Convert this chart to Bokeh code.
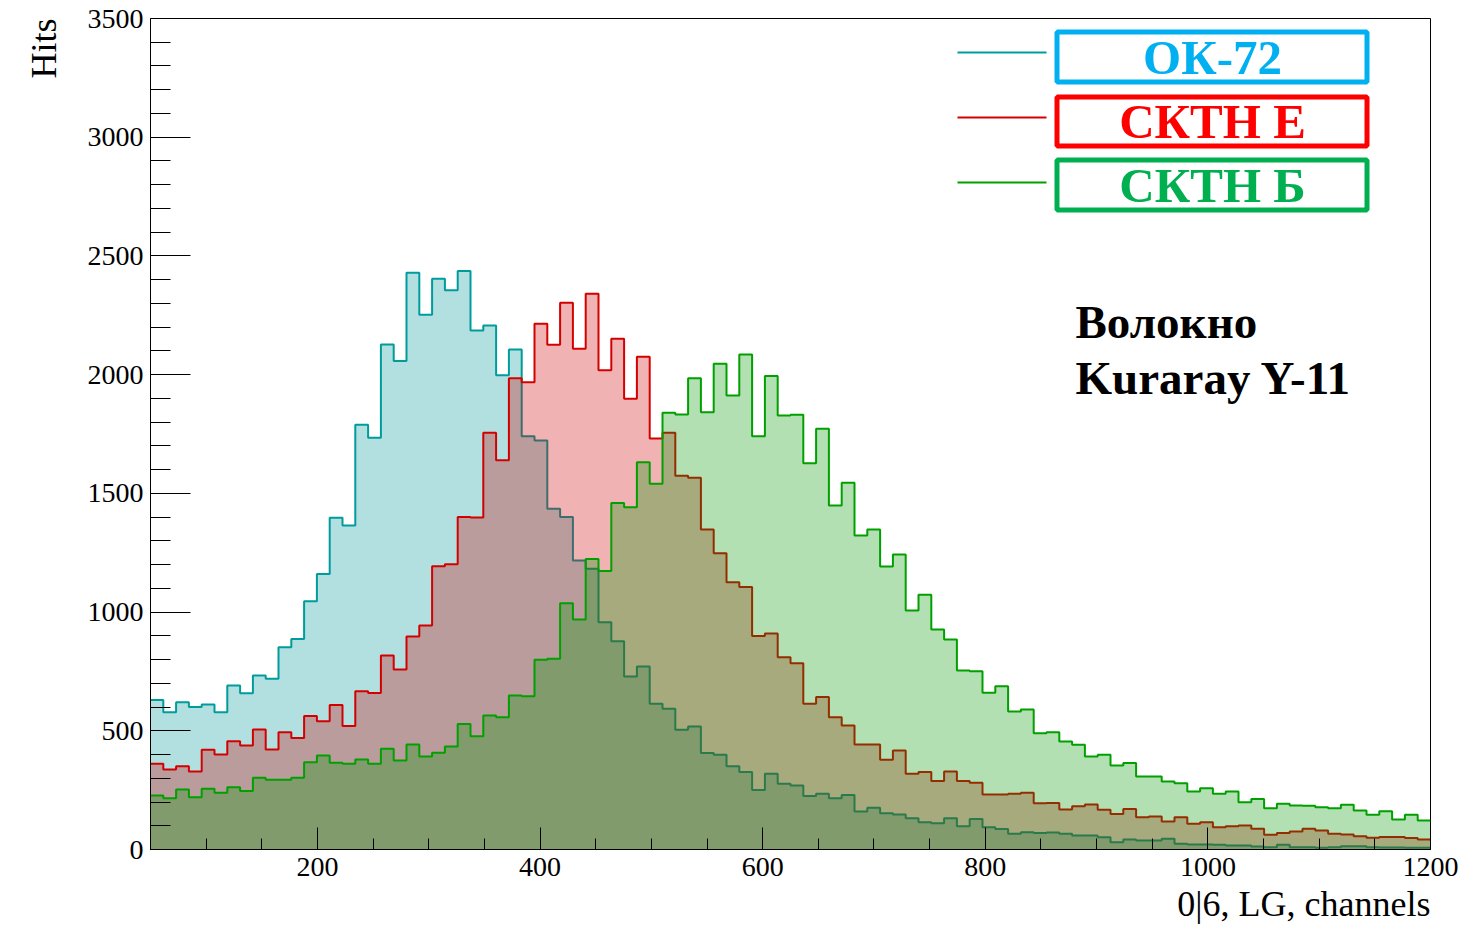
import numpy as np
from bokeh.plotting import figure
from bokeh.models import Range1d, SingleIntervalTicker, Label, Title
from bokeh.embed import file_html
from bokeh.resources import INLINE

# Binning: 100 channel bins from 50 to 1200
X_LO, X_HI = 50, 1200
Y_LO, Y_HI = 0, 3500
N_BINS = 100
edges = np.linspace(X_LO, X_HI, N_BINS + 1)

ok72 = [630, 578, 620, 600, 611, 578, 691, 658, 733, 719,
        852, 887, 1046, 1160, 1397, 1365, 1789, 1734, 2127, 2057,
        2429, 2252, 2404, 2355, 2436, 2186, 2207, 1997, 2106, 1740,
        1723, 1435, 1400, 1217, 1182, 957, 877, 729, 771, 614,
        593, 504, 518, 406, 399, 351, 326, 251, 319, 277,
        270, 225, 235, 216, 230, 160, 176, 153, 147, 132,
        115, 111, 132, 98, 128, 94, 86, 66, 73, 70,
        72, 66, 59, 59, 52, 31, 42, 38, 38, 45,
        24, 21, 21, 20, 17, 17, 13, 10, 20, 10,
        10, 7, 10, 14, 14, 10, 8, 8, 7, 7]

sktn_e = [361, 337, 351, 329, 420, 400, 456, 438, 505, 421,
          494, 470, 562, 540, 609, 520, 667, 659, 817, 758,
          897, 943, 1193, 1201, 1400, 1398, 1755, 1639, 1985, 1968,
          2214, 2126, 2303, 2109, 2341, 2018, 2151, 1898, 2075, 1731,
          1755, 1574, 1566, 1348, 1248, 1126, 1106, 899, 910, 810,
          784, 614, 642, 557, 522, 442, 442, 378, 417, 319,
          326, 288, 329, 288, 281, 232, 232, 235, 239, 195,
          196, 168, 182, 190, 167, 150, 171, 136, 139, 118,
          136, 108, 115, 94, 98, 101, 87, 62, 70, 76,
          87, 80, 66, 63, 56, 49, 53, 53, 48, 42]

sktn_b = [227, 216, 253, 220, 256, 239, 262, 246, 302, 294,
          294, 302, 368, 396, 365, 361, 379, 361, 424, 375,
          442, 392, 407, 434, 529, 477, 564, 557, 649, 645,
          799, 803, 1037, 969, 1224, 1173, 1459, 1442, 1631, 1540,
          1840, 1832, 1985, 1842, 2046, 1912, 2085, 1741, 1994, 1828,
          1831, 1627, 1772, 1449, 1545, 1323, 1348, 1192, 1243, 1007,
          1073, 927, 885, 754, 751, 660, 688, 581, 590, 490,
          494, 455, 441, 392, 399, 354, 364, 307, 307, 286,
          279, 244, 258, 235, 244, 199, 213, 174, 193, 185,
          184, 178, 174, 188, 164, 146, 161, 126, 146, 122]

series_names = ["ОК-72", "СКТН Е", "СКТН Б"]
line_colors = ["#009c9c", "#d40000", "#00a000"]
fill_colors = ["#009999", "#cc0000", "#009900"]
box_colors = ["#00b0f0", "#ff0000", "#00b050"]

# Frame geometry in pixels
W, H = 1462, 927
FL, FR, FT, FB = 150, 1430, 18, 849

p = figure(width=W, height=H, output_backend="svg", toolbar_location=None,
           x_range=Range1d(X_LO, X_HI), y_range=Range1d(Y_LO, Y_HI),
           min_border_left=FL, min_border_right=W - FR,
           min_border_top=FT, min_border_bottom=H - FB)
p.background_fill_color = "white"
p.border_fill_color = "white"
p.xgrid.visible = False
p.ygrid.visible = False
p.outline_line_color = "black"
p.outline_line_width = 1


def sx(px):
    return X_LO + (px - FL) * (X_HI - X_LO) / (FR - FL)


def sy(py):
    return Y_HI - (py - FT) * (Y_HI - Y_LO) / (FB - FT)


# Histograms: filled steps drawn one over the other
for vals, lc, fc in zip([ok72, sktn_e, sktn_b], line_colors, fill_colors):
    ys = list(vals) + [vals[-1]]
    p.varea_step(x=edges, y1=np.zeros(len(ys)), y2=ys, step_mode="after",
                 fill_color=fc, fill_alpha=0.3)
    p.step(x=edges, y=ys, mode="after", line_color=lc, line_width=2)

# Axes
FONT = "Liberation Serif"
p.xaxis.ticker = SingleIntervalTicker(interval=200, num_minor_ticks=4)
p.yaxis.ticker = SingleIntervalTicker(interval=500, num_minor_ticks=5)
for ax in (p.xaxis, p.yaxis):
    ax.axis_line_color = "black"
    ax.major_tick_line_color = "black"
    ax.minor_tick_line_color = "black"
    ax.major_tick_out = 0
    ax.minor_tick_out = 0
    ax.major_label_text_font = FONT
    ax.major_label_text_font_size = "28px"
    ax.major_label_text_color = "black"
p.yaxis.major_tick_in = 40
p.yaxis.minor_tick_in = 20
p.xaxis.major_tick_in = 22
p.xaxis.minor_tick_in = 11
p.yaxis.major_label_standoff = 7
p.xaxis.major_label_standoff = 8

# Axis titles, aligned to the far ends of the axes
p.add_layout(Title(text="Hits", align="right", text_font=FONT,
                   text_font_size="36px", text_font_style="normal",
                   text_line_height=0.8,
                   text_color="black", standoff=41), "left")
p.add_layout(Title(text="0|6, LG, channels", align="right", text_font=FONT,
                   text_font_size="36px", text_font_style="normal",
                   text_line_height=0.8,
                   text_color="black", standoff=7), "below")

# Legend: line samples and framed names
leg_y = [52, 117, 182]
box_tb = [(31.5, 81.5), (96.5, 145.5), (159.5, 209.5)]
for name, lc, bc, ly, (bt, bb) in zip(series_names, line_colors, box_colors, leg_y, box_tb):
    p.segment(x0=[sx(957)], y0=[sy(ly)], x1=[sx(1046)], y1=[sy(ly)],
              line_color=lc, line_width=2)
    p.quad(left=[sx(1056.5)], right=[sx(1366.5)], top=[sy(bt)], bottom=[sy(bb)],
           fill_color=None, line_color=bc, line_width=5)
    p.add_layout(Label(x=sx(1212), y=sy((bt + bb) / 2), text=name,
                       text_align="center", text_baseline="middle",
                       text_font=FONT, text_font_style="bold",
                       text_font_size="49px", text_color=bc))

p.add_layout(Label(x=sx(1075), y=sy(321), text="Волокно",
                   text_align="left", text_baseline="alphabetic",
                   text_font=FONT, text_font_style="bold",
                   text_font_size="47px", text_color="black"))
p.add_layout(Label(x=sx(1075), y=sy(377), text="Kuraray Y-11",
                   text_align="left", text_baseline="alphabetic",
                   text_font=FONT, text_font_style="bold",
                   text_font_size="47px", text_color="black"))

open("out.html", "w").write(file_html(p, INLINE))
